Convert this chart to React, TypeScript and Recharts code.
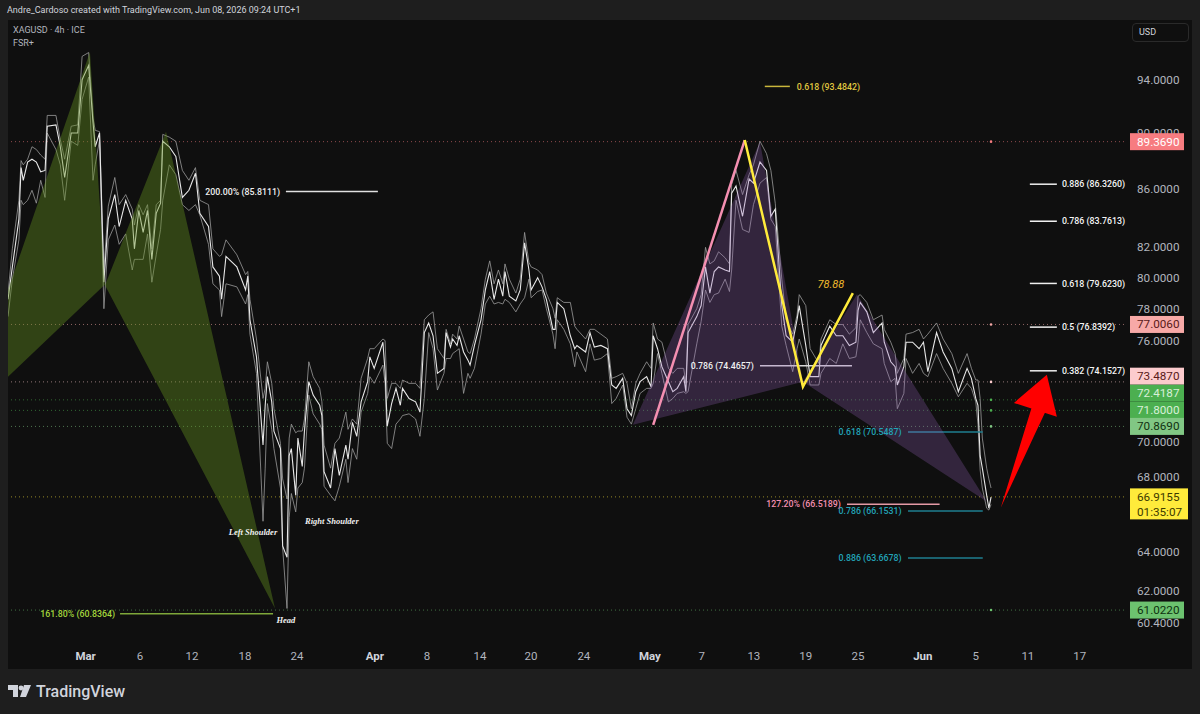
import { Area, ComposedChart, Line, ReferenceDot, ReferenceLine, XAxis, YAxis } from "recharts";

const FONT = "Roboto, sans-serif";

// 4h bars, counted from the left edge of the pane
const bars = [
  0, 2, 5, 6, 7, 9, 11, 13, 15, 17,
  18, 22, 24, 26, 29, 32, 34, 37, 39, 40,
  42, 44, 46, 49, 51, 54, 57, 58, 60, 62,
  64, 66, 68, 70, 71, 74, 77, 80, 83, 86,
  88, 92, 94, 97, 98, 100, 105, 109, 110, 111,
  114, 117, 118, 119, 121, 122, 125, 126, 128, 129,
  130, 132, 133, 135, 136, 138, 140, 143, 144, 145,
  148, 150, 152, 155, 156, 158, 160, 162, 165, 166,
  168, 172, 173, 174, 176, 178, 180, 181, 184, 187,
  189, 191, 193, 195, 197, 200, 201, 203, 204, 206,
  207, 209, 211, 212, 214, 217, 219, 221, 223, 225,
  227, 228, 230, 233, 235, 237, 239, 240, 243, 245,
  247, 250, 251, 252, 255, 258, 260, 261, 265, 267,
  269, 272, 275, 277, 279, 282, 284, 286, 288, 290,
  293, 295, 296, 298, 300, 303, 305, 307, 310, 311,
  312, 316, 318, 320, 322, 324, 326, 329, 331, 332,
  334, 337, 340, 342, 345, 348, 350, 352, 355, 357,
  360, 362, 363, 366, 368, 372, 373, 377, 380, 383,
  386, 389, 390, 391, 394, 397, 401, 402, 405, 407,
  408, 411, 412, 415, 418, 420, 422, 426, 429, 433,
  436, 440, 442, 444, 445, 446, 447, 449, 450, 451,
];

const closes = [
  78.6, 80.7, 83.9, 87.5, 86.6, 87.9, 88.1, 87.9, 87.2, 87.3,
  90.5, 90.6, 89.0, 86.8, 90.0, 90.0, 94.0, 95.1, 90.8, 89.0,
  90.0, 79.7, 83.9, 85.6, 83.4, 85.2, 83.9, 81.9, 84.5, 83.0,
  84.5, 81.2, 84.3, 85.0, 89.4, 89.0, 88.3, 85.4, 85.9, 87.1,
  84.3, 83.4, 80.7, 80.1, 78.6, 81.4, 80.7, 79.2, 80.1, 77.3,
  75.0, 69.8, 72.1, 73.8, 72.3, 70.6, 69.6, 64.3, 63.7, 69.2,
  69.6, 67.0, 70.2, 68.6, 70.6, 73.5, 72.7, 72.1, 71.5, 68.3,
  67.4, 69.6, 68.1, 69.8, 69.0, 71.1, 70.3, 72.3, 73.5, 75.0,
  74.3, 75.9, 74.1, 70.9, 72.2, 73.1, 72.1, 73.1, 72.5, 72.3,
  71.7, 76.5, 77.1, 76.3, 74.0, 74.3, 76.5, 75.6, 76.1, 75.7,
  76.3, 75.3, 74.8, 74.5, 75.7, 77.3, 79.2, 80.4, 78.6, 79.9,
  78.8, 80.4, 78.8, 78.5, 79.2, 82.3, 80.5, 79.2, 80.0, 79.4,
  78.6, 76.7, 76.7, 78.4, 78.0, 76.3, 75.5, 75.7, 75.3, 76.5,
  75.6, 75.7, 75.5, 73.3, 73.1, 73.7, 71.9, 71.5, 72.9, 73.5,
  73.8, 73.2, 76.3, 75.5, 74.4, 73.5, 72.9, 73.1, 73.8, 72.9,
  76.5, 77.5, 78.2, 80.7, 79.0, 80.4, 80.7, 80.5, 80.4, 85.7,
  86.2, 84.1, 86.7, 86.4, 87.9, 87.3, 84.1, 84.6, 78.2, 76.3,
  75.9, 77.3, 78.2, 75.7, 73.8, 73.8, 75.7, 76.9, 76.3, 76.3,
  75.7, 75.9, 77.9, 78.4, 77.8, 76.5, 77.1, 75.9, 74.7, 74.4,
  73.3, 74.4, 75.9, 75.9, 75.5, 75.9, 74.1, 76.5, 75.3, 74.3,
  72.9, 74.3, 73.7, 72.5, 72.1, 69.2, 68.5, 67.0, 66.3, 66.9,
];

const highs = [
  79.0, 81.9, 85.2, 88.0, 87.7, 88.1, 89.0, 88.8, 88.4, 88.1,
  91.3, 91.3, 89.5, 88.1, 90.5, 90.6, 95.8, 96.1, 91.1, 90.2,
  90.1, 80.5, 84.8, 86.8, 84.9, 85.6, 84.6, 83.5, 84.9, 84.2,
  84.9, 81.9, 84.9, 85.2, 89.9, 89.7, 89.4, 87.3, 86.6, 87.5,
  85.2, 84.9, 81.9, 81.4, 81.5, 82.5, 81.5, 80.2, 80.4, 78.6,
  76.1, 72.5, 73.1, 74.7, 73.4, 71.9, 69.9, 67.9, 66.8, 70.2,
  71.0, 70.5, 70.6, 70.6, 71.3, 74.7, 73.8, 73.1, 72.3, 69.8,
  68.5, 69.9, 70.2, 71.7, 70.7, 71.3, 71.0, 73.7, 74.9, 75.5,
  75.5, 76.1, 76.0, 72.5, 73.4, 73.4, 73.1, 73.6, 73.4, 73.4,
  73.1, 77.3, 77.6, 77.8, 75.5, 74.9, 76.7, 75.8, 76.4, 76.1,
  76.9, 76.1, 75.3, 75.2, 76.1, 78.0, 79.9, 81.1, 79.6, 80.5,
  79.6, 80.9, 79.9, 79.0, 79.9, 83.0, 81.0, 80.7, 80.5, 80.2,
  79.0, 78.0, 77.4, 78.7, 78.4, 78.4, 76.9, 76.7, 76.1, 76.7,
  76.7, 76.4, 76.1, 73.7, 73.8, 74.0, 73.4, 71.9, 73.4, 74.0,
  74.7, 74.3, 77.1, 76.1, 75.9, 74.3, 74.0, 74.3, 74.3, 73.4,
  77.0, 78.0, 78.9, 82.0, 80.9, 81.1, 81.7, 81.3, 80.9, 86.3,
  87.3, 85.6, 87.0, 87.7, 89.4, 88.5, 87.3, 85.0, 79.9, 77.3,
  76.4, 77.6, 78.9, 78.2, 75.5, 74.6, 76.1, 77.3, 77.0, 77.0,
  76.4, 76.8, 78.8, 78.9, 78.4, 77.3, 77.6, 76.7, 75.9, 75.2,
  74.0, 74.9, 76.4, 76.5, 76.7, 76.1, 76.4, 77.1, 76.1, 75.2,
  74.0, 75.2, 74.3, 73.6, 73.6, 72.5, 70.2, 68.5, 67.9, 67.4,
];

const lows = [
  77.5, 79.9, 82.5, 85.2, 84.9, 85.2, 85.9, 85.0, 86.6, 85.4,
  90.0, 88.8, 87.7, 85.2, 89.4, 89.1, 92.5, 94.2, 86.6, 87.7,
  89.5, 78.0, 82.5, 83.5, 82.2, 82.9, 80.5, 81.2, 81.2, 81.2,
  82.9, 79.7, 81.5, 83.2, 85.2, 87.7, 87.0, 84.9, 84.5, 84.9,
  84.2, 82.2, 79.6, 79.2, 77.5, 79.6, 79.4, 78.3, 78.9, 76.4,
  74.0, 65.6, 68.5, 72.2, 70.7, 69.6, 67.4, 64.2, 61.1, 65.8,
  67.1, 66.1, 67.4, 67.7, 68.5, 72.7, 71.6, 71.0, 70.7, 67.5,
  67.0, 66.7, 67.5, 69.0, 67.7, 69.6, 69.0, 71.7, 72.8, 73.8,
  73.4, 74.5, 73.4, 69.9, 69.6, 71.0, 71.3, 71.5, 71.6, 71.3,
  70.3, 72.5, 76.5, 75.5, 73.0, 74.0, 74.9, 74.9, 75.2, 75.4,
  75.5, 72.8, 74.0, 73.7, 74.3, 76.4, 78.3, 78.8, 78.3, 78.4,
  78.3, 78.6, 78.4, 77.8, 78.3, 78.7, 79.9, 78.7, 79.1, 79.2,
  78.0, 76.4, 75.5, 77.3, 76.7, 75.8, 74.4, 75.3, 74.1, 75.8,
  74.8, 74.9, 75.2, 72.2, 72.5, 73.3, 71.4, 71.0, 71.9, 72.8,
  73.1, 73.1, 73.4, 75.2, 74.0, 72.3, 72.5, 72.8, 72.9, 72.8,
  72.9, 75.8, 77.2, 79.2, 78.4, 78.9, 79.0, 79.9, 79.1, 80.5,
  85.2, 83.2, 83.0, 84.9, 86.4, 86.8, 83.9, 83.4, 76.9, 75.7,
  74.1, 75.5, 76.1, 74.7, 73.3, 73.3, 74.0, 74.9, 74.6, 75.8,
  74.9, 75.0, 75.9, 77.3, 76.5, 75.8, 75.5, 74.6, 73.5, 73.7,
  71.9, 72.8, 74.9, 74.0, 74.6, 74.0, 73.8, 75.2, 74.3, 73.4,
  72.6, 73.4, 73.1, 72.3, 71.0, 68.4, 67.4, 66.3, 66.2, 66.5,
];

const rows = bars.map((bar, i) => ({ bar, close: closes[i], high: highs[i], low: lows[i] }));

const dateBars = [35.6, 60.6, 84.4, 108.7, 132.6, 168.3, 192.2, 216.5, 239.9, 264.2, 294.5, 318.3, 342.2, 366, 390, 419.7, 444, 467.9, 491.7];
const dateLabels = ["Mar", "6", "12", "18", "24", "Apr", "8", "14", "20", "24", "May", "7", "13", "19", "25", "Jun", "5", "11", "17"];

const priceTicks = [94, 90, 86, 82, 80, 78, 76, 70, 68, 64, 62, 60.4];
const levelPrices = [89.369, 77.006, 73.487, 72.4187, 71.8, 70.869, 66.9155, 61.022];
const levelColors = ["#f77c80", "#f7a9a7", "#fccbcd", "#4caf50", "#4caf50", "#81c784", "#ffeb3b", "#6cc26f"];
const levelTextColors = ["#ffffff", "#5a1a1a", "#5a1a1a", "#d8f0d8", "#d8f0d8", "#123312", "#3d3a00", "#0f3310"];
// price tags get pushed up when they would collide on the axis
const levelTagShift = [0, 0, -5.7, -6.6, 0, 0, 0, 0];

// harmonic legs, each one [bar, low edge, high edge]
const greenLegOne = [
  { bar: 0, band: [73.8, 79.2] },
  { bar: 37.6, band: [78.64, 96.15] },
  { bar: 44.5, band: [79.56, 79.56] },
];
const greenLegTwo = [
  { bar: 44.5, band: [79.5, 79.5] },
  { bar: 72.5, band: [72.35, 90.1] },
  { bar: 122.5, band: [61.1, 61.1] },
];
const purpleLegOne = [
  { bar: 286.7, band: [70.96, 70.96] },
  { bar: 345, band: [72.84, 89.35] },
  { bar: 364.7, band: [73.49, 73.49] },
];
const purpleLegTwo = [
  { bar: 364.7, band: [73.49, 73.49] },
  { bar: 389.5, band: [71.41, 78.92] },
  { bar: 449, band: [66.67, 66.67] },
];
const arrowShaft = [
  { bar: 455.5, band: [66.34, 66.34] },
  { bar: 470.6, band: [70.29, 72.36] },
  { bar: 476.1, band: [71.77, 71.77] },
];
const arrowHead = [
  { bar: 461.5, band: [72.24, 72.24] },
  { bar: 476.6, band: [71.62, 73.91] },
  { bar: 481.2, band: [71.43, 71.43] },
];

const pinkLeg = [{ bar: 296, price: 70.96 }, { bar: 338, price: 89.49 }];
const yellowLeg = [{ bar: 338, price: 89.49 }, { bar: 364.7, price: 73.2 }, { bar: 387.6, price: 79.0 }];

const fibPrices = [93.4842, 85.8111, 60.8364, 74.4657, 70.5487, 66.1531, 63.6678, 66.5189, 86.326, 83.7613, 79.623, 76.8392, 74.1527];
const fibLabels = [
  "0.618 (93.4842)", "200.00% (85.8111)", "161.80% (60.8364)", "0.786 (74.4657)", "0.618 (70.5487)",
  "0.786 (66.1531)", "0.886 (63.6678)", "127.20% (66.5189)", "0.886 (86.3260)", "0.786 (83.7613)",
  "0.618 (79.6230)", "0.5 (76.8392)", "0.382 (74.1527)",
];
const fibStart = [347.2, 127.5, 51.4, 345, 412.9, 412.9, 412.9, 384.9, 468.8, 468.8, 468.8, 468.8, 468.8];
const fibEnd = [358.7, 169.7, 121.6, 387.2, 447.2, 447.2, 447.2, 427.4, 481.2, 481.2, 481.2, 481.2, 481.2];
const fibTextBar = [361.9, 124.8, 49.1, 342.2, 410, 410, 410, 382.1, 483.5, 483.5, 483.5, 483.5, 483.5];
const fibTextSide = ["right", "left", "left", "left", "left", "left", "left", "left", "right", "right", "right", "right", "right"];
const fibLineColors = ["#c9b63c", "#e0e0e0", "#7fa83a", "#d8d8d8", "#1f7f90", "#1f7f90", "#1f7f90", "#e59aa6", "#f0f0f0", "#f0f0f0", "#f0f0f0", "#f0f0f0", "#f0f0f0"];
const fibTextColors = ["#e0c840", "#f0f0f0", "#a4d63c", "#f0f0f0", "#22a4b8", "#22a4b8", "#22a4b8", "#f48fb1", "#f5f5f5", "#f5f5f5", "#f5f5f5", "#f5f5f5", "#f5f5f5"];

const noteLabels = ["Left Shoulder", "Right Shoulder", "Head"];
const noteBars = [112.4, 148.6, 127.5];
const notePrices = [65.05, 65.6, 60.55];

function PriceTick({ y, payload }: any) {
  const value = payload.value;
  const level = levelPrices.indexOf(value);
  if (level < 0) {
    return (
      <text x={1137} y={y} dy={4} fill="#b2b5be" fontSize={11.7} fontFamily={FONT}>
        {value.toFixed(4)}
      </text>
    );
  }
  const isLast = value === 66.9155;
  const tagY = y + levelTagShift[level];
  return (
    <g>
      <rect x={1130} y={tagY - 8.5} width={isLast ? 58 : 54} height={isLast ? 31 : 17} fill={levelColors[level]} />
      <text x={1137} y={tagY} dy={4} fill={levelTextColors[level]} fontSize={11.7} fontFamily={FONT}>
        {value.toFixed(4)}
      </text>
      {isLast && (
        <text x={1137} y={tagY + 15} dy={4} fill={levelTextColors[level]} fontSize={11.7} fontFamily={FONT}>
          01:35:07
        </text>
      )}
    </g>
  );
}

function DateTick({ x, payload }: any) {
  const label = dateLabels[dateBars.indexOf(payload.value)];
  const isMonth = label.length === 3;
  return (
    <text x={x} y={656} dy={4} textAnchor="middle" fill={isMonth ? "#d1d4dc" : "#b2b5be"} fontSize={11.5} fontWeight={isMonth ? 700 : 400} fontFamily={FONT}>
      {label}
    </text>
  );
}

const frameText = { position: "absolute", fontFamily: FONT, whiteSpace: "nowrap" } as const;

export default function App() {
  return (
    <div style={{ position: "absolute", left: 0, top: 0, width: 1200, height: 714, background: "#1e1e1e", overflow: "hidden" }}>
      <div style={{ position: "absolute", left: 8, top: 20, width: 1184, height: 649, background: "#0f0f0f" }} />
      <div style={{ position: "absolute", left: 0, top: 0 }}>
        <ComposedChart width={1200} height={714} data={rows} margin={{ top: 20, left: 8, right: 8, bottom: 45 }}>
          <XAxis dataKey="bar" type="number" domain={[0, 512]} ticks={dateBars} interval={0} axisLine={false} tickLine={false} height={24} tick={DateTick} allowDataOverflow />
          <YAxis
            orientation="right"
            type="number"
            scale="log"
            domain={[59.31, 98.68]}
            ticks={[...priceTicks, ...levelPrices]}
            interval={0}
            width={68}
            axisLine={false}
            tickLine={false}
            tick={PriceTick}
            allowDataOverflow
          />

          {levelPrices.map((price, i) => (
            <ReferenceLine key={price} y={price} stroke={levelColors[i]} strokeOpacity={0.55} strokeDasharray="1 3" />
          ))}
          {levelPrices.map((price, i) =>
            price === 66.9155 ? null : (
              <ReferenceDot key={price} x={451} y={price} r={1.3} fill={levelColors[i]} stroke="none" />
            )
          )}

          <Line dataKey="high" stroke="#9a9a9a" strokeWidth={0.8} dot={false} isAnimationActive={false} />
          <Line dataKey="low" stroke="#9a9a9a" strokeWidth={0.8} dot={false} isAnimationActive={false} />
          <Line dataKey="close" stroke="#e8e8e8" strokeWidth={1.1} dot={false} isAnimationActive={false} />

          <Area data={greenLegOne} dataKey="band" stroke="none" fill="#64901e" fillOpacity={0.4} dot={false} isAnimationActive={false} zIndex={450} />
          <Area data={greenLegTwo} dataKey="band" stroke="none" fill="#64901e" fillOpacity={0.4} dot={false} isAnimationActive={false} zIndex={450} />
          <Area data={purpleLegOne} dataKey="band" stroke="none" fill="#9664be" fillOpacity={0.27} dot={false} isAnimationActive={false} zIndex={450} />
          <Area data={purpleLegTwo} dataKey="band" stroke="none" fill="#9664be" fillOpacity={0.27} dot={false} isAnimationActive={false} zIndex={450} />
          <Area data={arrowShaft} dataKey="band" stroke="none" fill="#ff0000" fillOpacity={1} dot={false} isAnimationActive={false} zIndex={450} />
          <Area data={arrowHead} dataKey="band" stroke="none" fill="#ff0000" fillOpacity={1} dot={false} isAnimationActive={false} zIndex={450} />

          <Line data={pinkLeg} dataKey="price" stroke="#f48fb1" strokeWidth={2.5} dot={false} isAnimationActive={false} zIndex={500} />
          <Line data={yellowLeg} dataKey="price" stroke="#ffeb3b" strokeWidth={2.5} dot={false} isAnimationActive={false} zIndex={500} />

          {fibPrices.map((price, i) => (
            <ReferenceLine
              key={price}
              segment={[{ x: fibStart[i], y: price }, { x: fibEnd[i], y: price }]}
              stroke={fibLineColors[i]}
              strokeWidth={1.5}
            />
          ))}
          {fibPrices.map((price, i) => (
            <ReferenceDot
              key={fibLabels[i]}
              x={fibTextBar[i]}
              y={price}
              r={0}
              fill="none"
              stroke="none"
              label={{ value: fibLabels[i], position: fibTextSide[i] as any, offset: 0, fill: fibTextColors[i], fontSize: 8.8, fontWeight: 500, fontFamily: FONT }}
            />
          ))}
          {noteLabels.map((note, i) => (
            <ReferenceDot
              key={note}
              x={noteBars[i]}
              y={notePrices[i]}
              r={0}
              fill="none"
              stroke="none"
              label={{ value: note, position: "center", fill: "#f0f0f0", fontSize: 8.5, fontWeight: 700, fontStyle: "italic", fontFamily: "'Liberation Serif', serif" }}
            />
          ))}
          <ReferenceDot
            x={377.5}
            y={79.56}
            r={0}
            fill="none"
            stroke="none"
            label={{ value: "78.88", position: "center", fill: "#f0b92d", fontSize: 11, fontStyle: "italic", fontFamily: FONT }}
          />
        </ComposedChart>
      </div>

      <div style={{ ...frameText, left: 7, top: 5, fontSize: 9, color: "#d1d4dc" }}>Andre_Cardoso created with TradingView.com, Jun 08, 2026 09:24 UTC+1</div>
      <div style={{ ...frameText, left: 13, top: 25, fontSize: 9, color: "#b2b5be" }}>XAGUSD · 4h · ICE</div>
      <div style={{ ...frameText, left: 13, top: 38, fontSize: 9, color: "#b2b5be" }}>FSR+</div>
      <div style={{ ...frameText, left: 1132, top: 23, width: 57, height: 19, boxSizing: "border-box", border: "1px solid #2a2a2a", borderRadius: 4, background: "#0f0f0f", fontSize: 9, color: "#d1d4dc", paddingLeft: 6, lineHeight: "17px" }}>USD</div>

      <svg style={{ position: "absolute", left: 8, top: 685 }} width={24} height={14} viewBox="0 0 24 14">
        <path d="M0 0h10v12H5V5H0z M16 0h7l-5 12h-6z" fill="#d1d4dc" />
        <circle cx="13" cy="3" r="2.4" fill="#d1d4dc" />
      </svg>
      <div style={{ ...frameText, left: 36, top: 682, fontSize: 16, fontWeight: 500, color: "#d1d4dc" }}>TradingView</div>
    </div>
  );
}
